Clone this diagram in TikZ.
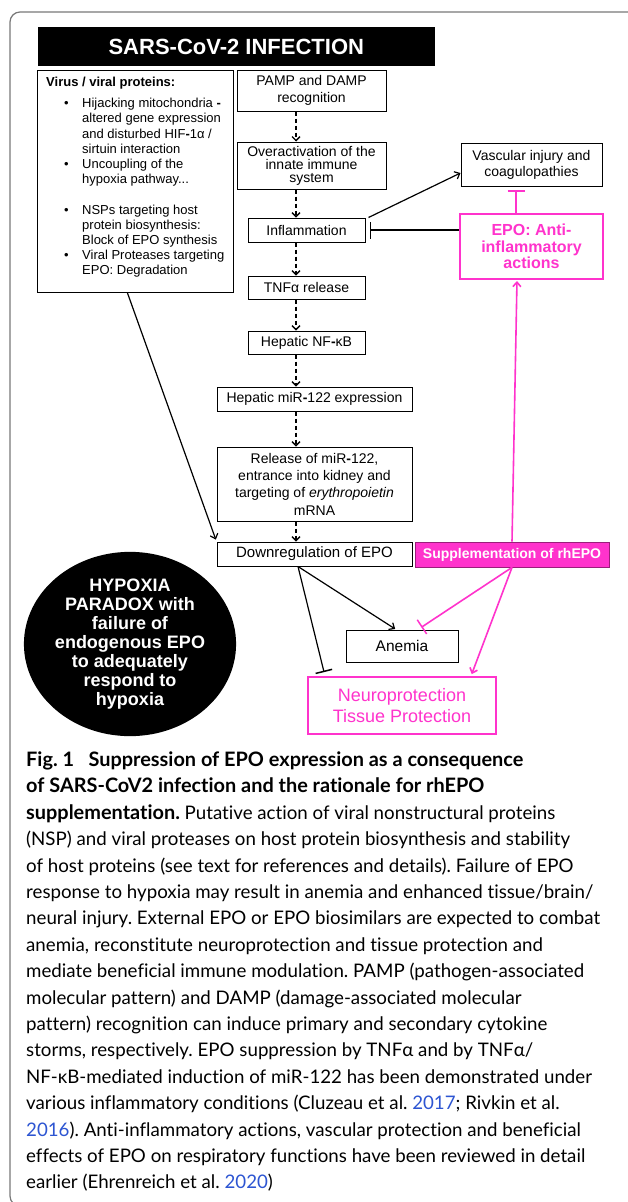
\documentclass[tikz,border=0pt]{standalone}
\usepackage{fontspec}
\setmainfont{Liberation Sans}
\newfontfamily\capfont[Ligatures=NoCommon]{Lato}
\usetikzlibrary{arrows.meta,shapes.geometric}
\definecolor{epopink}{RGB}{255,51,204}
\definecolor{citeblue}{RGB}{45,85,210}
\definecolor{framegray}{RGB}{120,120,120}
\newcommand{\vitem}[1]{\hspace*{18pt}\makebox[18pt][l]{\textbullet}#1}
\newcommand{\vcont}[1]{\hspace*{36pt}#1}
\newcommand{\cyear}[1]{\textcolor{citeblue}{#1}}
\newcommand{\capbf}[1]{{\fontsize{19.9}{26.4}\bfseries #1}}

\begin{document}
\frenchspacing
\begin{tikzpicture}[x=1pt,y=1pt,
      box/.style={rectangle, draw, line width=1pt, align=center, inner sep=0pt, font=\fontsize{14}{16.5}\selectfont},
      pinkbox/.style={rectangle, draw=epopink, line width=2pt, align=center, inner sep=0pt, text=epopink},
      chain/.style={line width=1.3pt, dash pattern=on 4.5pt off 2.5pt, -{Straight Barb[length=4pt,width=8pt]}},
      pointer/.style={line width=1.2pt, -{Straight Barb[length=4.5pt,width=8pt]}},
      blocker/.style={line width=1.2pt, -{Bar[width=17pt,line width=1.5pt]}},
      pinkpointer/.style={pointer, draw=epopink, line width=1.6pt},
      pinkblocker/.style={blocker, draw=epopink, line width=1.6pt}
      ]
  \useasboundingbox (0,0) rectangle (627,-1202);
  \fill[white] (0,0) rectangle (627,-1202);
  \draw[framegray, line width=1.2pt, rounded corners=10pt] (10,-12) rectangle (660,-1206);

  \node[fill=black, text=white, minimum width=397pt, minimum height=39pt, inner sep=0pt,
        font=\fontsize{22}{24}\bfseries] (title) at (236.3,-46.5) {SARS-CoV-2 INFECTION};

  % virus column
  \node[box, minimum width=195.4pt, minimum height=222pt] (virus) at (135.3,-181) {};
  \node[anchor=north west, inner sep=0pt, align=left, font=\fontsize{13}{15.2}\selectfont] (virustext) at (46,-77) {
    \textbf{Virus / viral proteins:}\\[5.8pt]
    \vitem{Hijacking mitochondria \textbf{-}}\\
    \vcont{altered gene expression}\\
    \vcont{and disturbed HIF\textbf{-}1α /}\\
    \vcont{sirtuin interaction}\\
    \vitem{Uncoupling of the}\\
    \vcont{hypoxia pathway...}\\
    \mbox{}\\
    \vitem{NSPs targeting host}\\
    \vcont{protein biosynthesis:}\\
    \vcont{Block of EPO synthesis}\\
    \vitem{Viral Proteases targeting}\\
    \vcont{EPO: Degradation}
  };

  % main chain
  \node[box, minimum width=149pt, minimum height=41pt] (pamp) at (311.5,-90.5) {PAMP and DAMP\\recognition};
  \node[box, minimum width=149pt, minimum height=47pt, font=\fontsize{14}{13}\selectfont] (overact) at (311.5,-165.5) {Overactivation of the\\innate immune\\system};
  \node[box, minimum width=117pt, minimum height=24pt] (inflam) at (306.5,-230) {Inflammation};
  \node[box, minimum width=117pt, minimum height=23pt] (tnf) at (306.5,-287.5) {TNFα release};
  \node[box, minimum width=117pt, minimum height=23pt] (nfkb) at (306.5,-342.5) {Hepatic NF\textbf{-}κB};
  \node[box, minimum width=195pt, minimum height=24pt] (mirexpr) at (314.5,-399) {Hepatic miR\textbf{-}122 expression};
  \node[box, minimum width=195pt, minimum height=74pt, font=\fontsize{14}{17.3}\selectfont] (mirrel) at (314.5,-484) {Release of miR\textbf{-}122,\\entrance into kidney and\\targeting of \textit{erythropoietin}\\mRNA};
  \node[box, minimum width=195pt, minimum height=24pt, font=\fontsize{15}{17}\selectfont] (downreg) at (314.5,-554) {Downregulation of EPO};

  % right column
  \node[box, minimum width=141pt, minimum height=43pt, font=\fontsize{14}{16}\selectfont] (vascular) at (531.5,-164.5) {Vascular injury and\\coagulopathies};
  \node[pinkbox, minimum width=143pt, minimum height=65pt, font=\fontsize{16}{16.7}\bfseries] (epoanti) at (531.5,-246.5) {EPO: Anti-\\inflammatory\\actions};
  \node[rectangle, fill=epopink, draw=epopink!60!black, line width=0.8pt, text=white, inner sep=0pt,
        minimum width=194pt, minimum height=25pt, font=\fontsize{14}{16}\bfseries] (suppl) at (512,-554.5) {Supplementation of rhEPO};

  % outcomes
  \node[ellipse, fill=black, text=white, minimum width=192pt, minimum height=156pt, inner sep=0pt, align=center,
        font=\fontsize{18}{19}\bfseries] (paradox) at (130,-644) {HYPOXIA\\PARADOX with\\failure of\\endogenous EPO\\to adequately\\respond to\\hypoxia};
  \node[box, minimum width=112pt, minimum height=32pt, font=\fontsize{15.5}{17}\selectfont] (anemia) at (402,-646) {Anemia};
  \node[pinkbox, minimum width=188pt, minimum height=57pt, font=\fontsize{18}{21}\selectfont] (neuro) at (402,-705.5) {Neuroprotection\\Tissue Protection};

  %dashed chain edges
  \coordinate (spine) at (296,0);
  \foreach \a/\b in {pamp/overact, overact/inflam, inflam/tnf, tnf/nfkb, nfkb/mirexpr, mirexpr/mirrel, mirrel/downreg}
    \draw[chain] (\a.south -| spine) -- (\b.north -| spine);

  %black edges
  \draw[pointer] ([xshift=3pt]inflam.north east) -- ([yshift=-8.5pt]vascular.west);
  \draw[blocker, shorten >=4pt] (epoanti.west |- inflam.east) -- (inflam.east);
  \draw[pointer, shorten >=2pt] ([xshift=-8pt]virus.south) -- (downreg.north west);
  \coordinate (dsplit) at ([xshift=-16.5pt]downreg.south);
  \draw[pointer, shorten >=1pt] (dsplit) -- ([xshift=-6pt]anemia.north);
  \draw[blocker, shorten >=4pt] (dsplit) -- ([xshift=18pt]neuro.north west);

  %pink edges
  \coordinate (vbar) at ([xshift=-15.5pt]epoanti.north);
  \draw[pinkblocker, line width=2pt, shorten >=3.5pt] (vbar) -- (vbar |- vascular.south);
  \draw[pinkpointer, shorten >=1pt] (suppl.north) -- ([xshift=-14.5pt]epoanti.south);
  \draw[pinkblocker, shorten >=4pt] (suppl.south) -- ([xshift=16pt]anemia.north);
  \draw[pinkpointer, shorten >=2pt] (suppl.south) -- ([xshift=-26pt]neuro.north east);

  % caption
  \node[anchor=north west, inner sep=0pt, align=left, font=\capfont\fontsize{18.7}{26.4}\selectfont] (caption) at (26,-751.5) {
    \capbf{Fig. 1\ \ \ Suppression of EPO expression as a consequence}\\
    \capbf{of SARS-CoV2 infection and the rationale for rhEPO}\\
    \capbf{supplementation.} Putative action of viral nonstructural proteins\\
    (NSP) and viral proteases on host protein biosynthesis and stability\\
    of host proteins (see text for references and details). Failure of EPO\\
    response to hypoxia may result in anemia and enhanced tissue/brain/\\
    neural injury. External EPO or EPO biosimilars are expected to combat\\
    anemia, reconstitute neuroprotection and tissue protection and\\
    mediate beneficial immune modulation. PAMP (pathogen-associated\\
    molecular pattern) and DAMP (damage-associated molecular\\
    pattern) recognition can induce primary and secondary cytokine\\
    storms, respectively. EPO suppression by TNFα and by TNFα/\\
    NF-κB-mediated induction of miR-122 has been demonstrated under\\
    various inflammatory conditions (Cluzeau et al. \cyear{2017}; Rivkin et al.\\
    \cyear{2016}). Anti-inflammatory actions, vascular protection and beneficial\\
    effects of EPO on respiratory functions have been reviewed in detail\\
    earlier (Ehrenreich et al. \cyear{2020})
  };
\end{tikzpicture}
\end{document}
